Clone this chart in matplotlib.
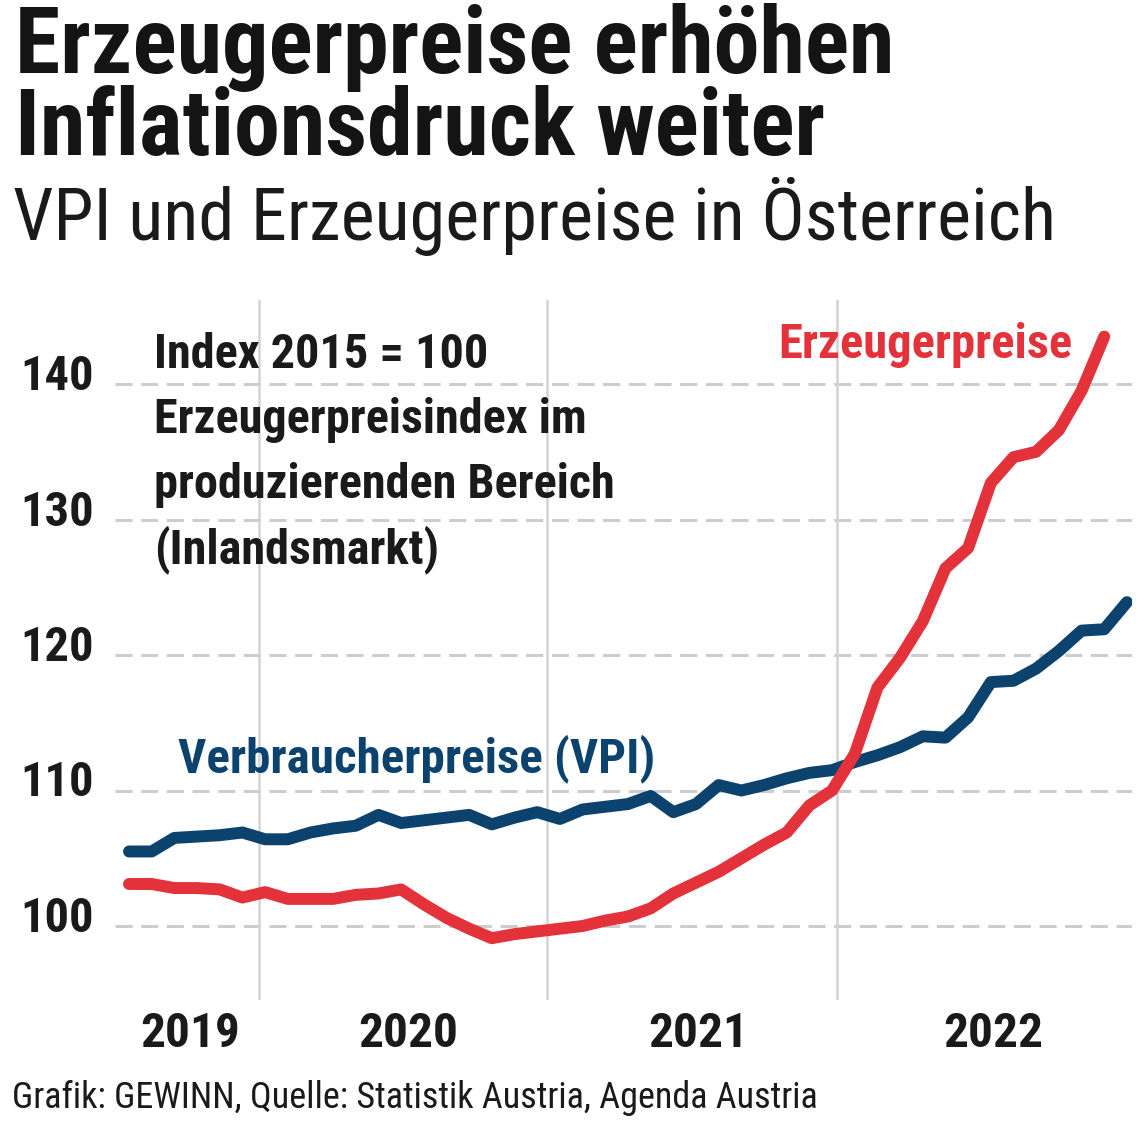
import os
import matplotlib
matplotlib.use("Agg")
import matplotlib.pyplot as plt
from matplotlib import font_manager as fm
from matplotlib.font_manager import FontProperties
from matplotlib.transforms import blended_transform_factory, offset_copy

# ---------------- data ----------------
months_vpi = list(range(45))          # Jan 2019 .. Sep 2022
months_ppi = list(range(44))          # Jan 2019 .. Aug 2022
vpi = [105.5, 105.5, 106.5, 106.6, 106.7, 106.9, 106.4, 106.4, 106.9, 107.2,
       107.4, 108.2, 107.6, 107.8, 108.0, 108.2, 107.5, 108.0, 108.4, 107.9,
       108.6, 108.8, 109.0, 109.6, 108.4, 109.0, 110.4, 110.0, 110.4, 110.9,
       111.3, 111.5, 112.1, 112.6, 113.2, 114.0, 113.9, 115.4, 118.0, 118.1,
       119.0, 120.3, 121.8, 121.9, 123.9]
ppi = [103.1, 103.1, 102.8, 102.8, 102.7, 102.1, 102.5, 102.0, 102.0, 102.0,
       102.3, 102.4, 102.7, 101.6, 100.6, 99.8, 99.1, 99.4, 99.6, 99.8,
       100.0, 100.4, 100.7, 101.3, 102.4, 103.2, 104.0, 105.0, 106.0, 106.9,
       108.9, 110.0, 112.7, 117.6, 119.8, 122.5, 126.4, 127.9, 132.7, 134.6,
       135.0, 136.6, 139.5, 143.5]
y_ticks = [100, 110, 120, 130, 140]
year_labels = ["2019", "2020", "2021", "2022"]
year_label_pos = [2.7, 12.3, 25.1, 38.1]
year_grid_pos = [5.73, 18.43, 31.22]

title_lines = ["Erzeugerpreise erhöhen", "Inflationsdruck weiter"]
subtitle = "VPI und Erzeugerpreise in Österreich"
note_lines = ["Index 2015 = 100", "Erzeugerpreisindex im",
              "produzierenden Bereich", "(Inlandsmarkt)"]
label_ppi = "Erzeugerpreise"
label_vpi = "Verbraucherpreise (VPI)"
footer = "Grafik: GEWINN, Quelle: Statistik Austria, Agenda Austria"

RED = "#e3323a"
NAVY = "#0c426e"
TXT = "#1a1a1a"

# ---------------- fonts ----------------
files = [f.fname for f in fm.fontManager.ttflist]


def find_file(rules):
    for inc, exc in rules:
        for fn in files:
            low = os.path.basename(fn).lower().replace(" ", "").replace("_", "")
            if all(k in low for k in inc) and not any(k in low for k in exc):
                return fn
    return None


bold_file = find_file([
    (["robotocondensed", "bold"], ["italic", "semi", "extra"]),
    (["liberationsansnarrow", "bold"], ["italic"]),
    (["narrow", "bold"], ["italic"]),
    (["dejavusanscondensed-bold"], ["oblique"]),
    (["condensed", "bold"], ["italic", "oblique", "semi", "extra"]),
])
heavy_file = find_file([
    (["robotocondensed", "extrabold"], ["italic"]),
    (["robotocondensed", "black"], ["italic"]),
]) or bold_file
reg_file = find_file([
    (["robotocondensed", "regular"], ["italic"]),
    (["liberationsansnarrow-regular"], []),
    (["narrow", "regular"], ["italic"]),
    (["dejavusanscondensed.ttf"], []),
    (["condensed", "regular"], ["italic"]),
])

fp_bold = FontProperties(fname=bold_file) if bold_file else FontProperties(family="Roboto", weight="bold")
fp_heavy = FontProperties(fname=heavy_file) if heavy_file else fp_bold
fp_reg = FontProperties(fname=reg_file) if reg_file else FontProperties(family="Roboto")

# ---------------- figure ----------------
W, H = 1140, 1128
fig = plt.figure(figsize=(W / 100, H / 100), dpi=100)
renderer = fig.canvas.get_renderer()


def px2fig(x, y):
    return x / W, 1 - y / H


ax_l, ax_r, ax_t, ax_b = 115, 1132, 300, 1000
ax = fig.add_axes([ax_l / W, 1 - ax_b / H, (ax_r - ax_l) / W, (ax_b - ax_t) / H])
x0_px, dx_px = 129.0, 22.68
ax.set_xlim((ax_l - x0_px) / dx_px, (ax_r - x0_px) / dx_px)
y100_px, dy_px = 926.0, 13.55
ax.set_ylim(100 - (ax_b - y100_px) / dy_px, 100 + (y100_px - ax_t) / dy_px)
for s in ax.spines.values():
    s.set_visible(False)
ax.set_xticks([])
ax.set_yticks([])
ax.patch.set_alpha(0)

for v in y_ticks:
    ax.axhline(v, color="#cdcdcd", lw=2.2, dashes=(5.6, 2.8), zorder=1)
for p in year_grid_pos:
    ax.axvline(p, color="#d3d3d3", lw=1.8, zorder=1)

ax.plot(months_vpi, vpi, color=NAVY, lw=8.6, solid_capstyle="round",
        solid_joinstyle="round", zorder=3)
ax.plot(months_ppi, ppi, color=RED, lw=8.6, solid_capstyle="round",
        solid_joinstyle="round", zorder=4)


def fitted(t, target_w, lo=0.6, hi=1.4):
    s0 = t.get_fontsize()
    w = t.get_window_extent(renderer).width
    s = s0 * target_w / w
    s = min(max(s, s0 * lo), s0 * hi)
    t.set_fontsize(s)
    return s


def ftext(x, y, s, fp, size, color, ha="left", va="baseline", transform=None):
    if transform is None:
        xf, yf = px2fig(x, y)
        return fig.text(xf, yf, s, fontproperties=fp, fontsize=size, color=color,
                        ha=ha, va=va)
    return fig.text(x, y, s, fontproperties=fp, fontsize=size, color=color,
                    ha=ha, va=va, transform=transform)


# title
t1 = ftext(15, 73, title_lines[0], fp_heavy, 55, "#141414")
sz = fitted(t1, 880)
t2 = ftext(15, 155, title_lines[1], fp_heavy, sz, "#141414")
# subtitle
st = ftext(13, 240, subtitle, fp_reg, 44, TXT)
fitted(st, 1042)

# note block
note_base = [368, 433, 498, 563]
nts = [ftext(154, b, s, fp_bold, 34, TXT) for s, b in zip(note_lines, note_base)]
szn = fitted(nts[2], 461)
for t in nts:
    t.set_fontsize(szn)

# series labels
lp = ftext(778, 358, label_ppi, fp_bold, 34, RED)
fitted(lp, 294)
lv = ftext(178, 772, label_vpi, fp_bold, 34, NAVY)
fitted(lv, 477)

# y tick labels
tr_y = offset_copy(blended_transform_factory(fig.transFigure, ax.transData),
                   fig=fig, x=0, y=7, units="dots")
yls = [ftext(94 / W, v, str(v), fp_bold, 32, TXT, ha="right", va="center",
             transform=tr_y) for v in y_ticks]
szy = fitted(yls[0], 74)
for t in yls:
    t.set_fontsize(szy)

# year labels
tr_x = blended_transform_factory(ax.transData, fig.transFigure)
yrs = [ftext(p, 1 - 1047 / H, s, fp_bold, 32, TXT, ha="center",
             transform=tr_x) for p, s in zip(year_label_pos, year_labels)]
szr = fitted(yrs[0], 100)
for t in yrs:
    t.set_fontsize(szr)

# footer
ft = ftext(12, 1108, footer, fp_reg, 26, TXT)
fitted(ft, 806)

fig.savefig("out.png", dpi=100)
